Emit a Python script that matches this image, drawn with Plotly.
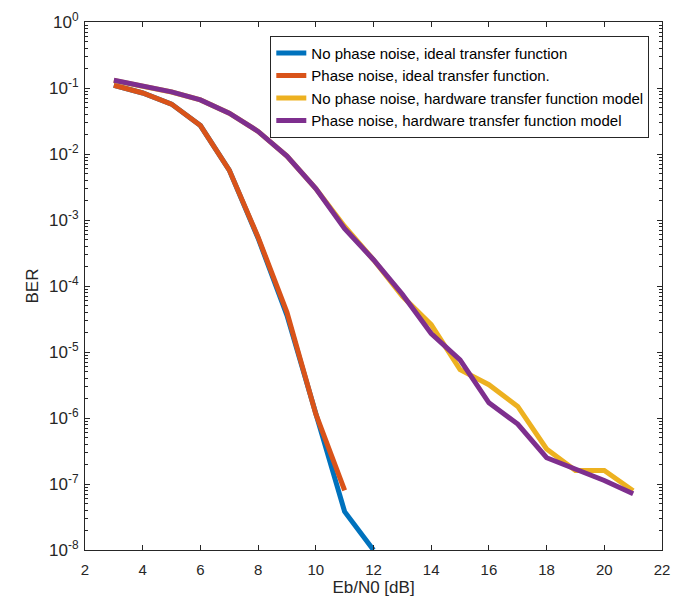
import plotly.graph_objects as go

ebn0_ideal_nopn = [3, 4, 5, 6, 7, 8, 9, 10, 11, 12]
ber_ideal_nopn = [0.11, 0.084, 0.057, 0.027, 0.0057, 5.3e-4, 3.6e-5, 1.1e-6, 3.8e-8, 1.0e-8]

ebn0_ideal_pn = [3, 4, 5, 6, 7, 8, 9, 10, 11]
ber_ideal_pn = [0.11, 0.084, 0.057, 0.027, 0.0057, 5.5e-4, 4.0e-5, 1.15e-6, 8.0e-8]

ebn0_hw = [3, 4, 5, 6, 7, 8, 9, 10, 11, 12, 13, 14, 15, 16, 17, 18, 19, 20, 21]
ber_hw_nopn = [0.13, 0.108, 0.087, 0.066, 0.0416, 0.022, 0.0093, 0.003, 8.0e-4, 2.5e-4, 7.0e-5,
               2.6e-5, 5.4e-6, 3.2e-6, 1.5e-6, 3.4e-7, 1.6e-7, 1.6e-7, 7.9e-8]
ber_hw_pn = [0.131, 0.108, 0.0875, 0.066, 0.0416, 0.022, 0.0093, 0.003, 7.4e-4, 2.5e-4, 7.5e-5,
             1.9e-5, 7.6e-6, 1.7e-6, 8.1e-7, 2.5e-7, 1.7e-7, 1.13e-7, 7.1e-8]

names = ["No phase noise, ideal transfer function",
         "Phase noise, ideal transfer function.",
         "No phase noise, hardware transfer function model",
         "Phase noise, hardware transfer function model"]
colors = ["#0072BD", "#D95319", "#EDB120", "#7E2F8E"]

x_ticks = [2, 4, 6, 8, 10, 12, 14, 16, 18, 20, 22]
y_exps = [0, -1, -2, -3, -4, -5, -6, -7, -8]

fig = go.Figure()
series = [(ebn0_ideal_nopn, ber_ideal_nopn), (ebn0_ideal_pn, ber_ideal_pn),
          (ebn0_hw, ber_hw_nopn), (ebn0_hw, ber_hw_pn)]
for (x, y), n, c in zip(series, names, colors):
    fig.add_trace(go.Scatter(x=x, y=y, mode="lines", name=n,
                             line=dict(color=c, width=5)))

minor_vals = [m * 10.0 ** e for e in range(-8, 0) for m in range(2, 10)]
axis_col = "#262626"
fam = "Liberation Sans, Arial, sans-serif"

fig.update_layout(
    width=680, height=604,
    margin=dict(l=85, r=10, t=16, b=53),
    paper_bgcolor="white", plot_bgcolor="white",
    font=dict(family=fam, size=15, color=axis_col),
    showlegend=True,
    legend=dict(x=0.978, y=0.974, xanchor="right", yanchor="top",
                bgcolor="white", bordercolor=axis_col, borderwidth=1,
                font=dict(family=fam, size=15, color="black"),
                tracegroupgap=0, itemwidth=30),
    xaxis=dict(range=[2, 22], tickvals=x_ticks, ticktext=[str(v) for v in x_ticks],
               ticks="inside", ticklen=5, tickcolor=axis_col, showgrid=False, zeroline=False,
               showline=True, linecolor=axis_col, linewidth=1, mirror="ticks",
               ticklabelstandoff=6, tickfont=dict(size=15),
               title=dict(text="Eb/N0 [dB]", standoff=4, font=dict(size=17))),
    yaxis=dict(type="log", range=[-8, 0], tickvals=[10.0 ** e for e in y_exps],
               ticktext=["10<sup>%d</sup>" % e for e in y_exps],
               ticks="inside", ticklen=5, tickcolor=axis_col, showgrid=False, zeroline=False,
               showline=True, linecolor=axis_col, linewidth=1, mirror="ticks",
               tickfont=dict(size=17), ticklabelstandoff=2,
               minor=dict(tickvals=minor_vals, ticks="inside", ticklen=3, tickcolor=axis_col, showgrid=False),
               title=dict(text="BER", standoff=6, font=dict(size=17))),
)
fig.write_html("out.html")
